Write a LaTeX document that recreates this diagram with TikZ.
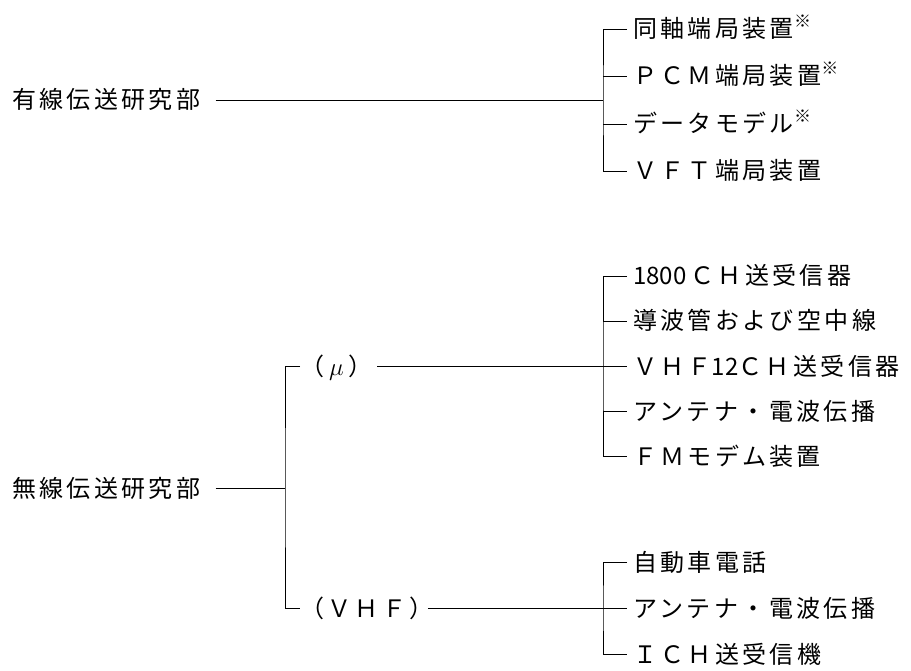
\documentclass[tikz,border=0pt]{standalone}
\usepackage{fontspec}
\newfontfamily\jp[LetterSpace=14]{Noto Sans CJK JP}
\newfontfamily\jpn{Noto Sans CJK JP}
\newcommand\kome{\raisebox{10pt}{\jpn\fontsize{17}{17}\selectfont ※}}
\newcommand\dig[1]{{\jpn #1}}
\begin{document}
\begin{tikzpicture}[x=1pt,y=-1pt,
  lbl/.style={inner sep=0pt, anchor=west, font=\jp\fontsize{24}{24}\selectfont, text height=21pt, text depth=3pt},
  ln/.style={line width=0.8pt, line cap=butt}]
\useasboundingbox (0,0) rectangle (911,671);
% main labels
\node[lbl] (yusen) at (12,100) {有線伝送研究部};
\node[lbl] (musen) at (12,488) {無線伝送研究部};
\node[lbl] (mu) at (300,366) {（\hspace{5pt}$\mu$\hspace{5pt}）};
\node[lbl] (vhf) at (300,608) {（ＶＨＦ）};
% junctions
\coordinate (b1) at (603,100);
\coordinate (b2) at (603,366);
\coordinate (b3) at (603,608);
\coordinate (bm) at (285,488);
% group 1
\node[lbl] (g1a) at (633,29)  {同軸端局装置\kome};
\node[lbl] (g1b) at (633,76)  {ＰＣＭ端局装置\kome};
\node[lbl] (g1c) at (633,124) {データモデル\kome};
\node[lbl] (g1d) at (633,171) {ＶＦＴ端局装置};
% group 2
\node[lbl] (g2a) at (633,276) {\dig{1800}\,ＣＨ送受信器};
\node[lbl] (g2b) at (633,321) {導波管および空中線};
\node[lbl] (g2c) at (633,366) {ＶＨＦ\dig{12}ＣＨ送受信器};
\node[lbl] (g2d) at (633,411) {アンテナ・電波伝播};
\node[lbl] (g2e) at (633,456) {ＦＭモデム装置};
% group 3
\node[lbl] (g3a) at (633,562) {自動車電話};
\node[lbl] (g3b) at (633,608) {アンテナ・電波伝播};
\node[lbl] (g3c) at (633,654) {ＩＣＨ送受信機};
% connectors
\draw[ln] ([xshift=15pt]yusen.east) -- (b1);
\draw[ln] ([xshift=-6pt]g1a.west) -| (b1) |- ([xshift=-6pt]g1d.west);
\draw[ln] (b1 |- g1b.west) -- ([xshift=-6pt]g1b.west);
\draw[ln] (b1 |- g1c.west) -- ([xshift=-6pt]g1c.west);

\draw[ln] ([xshift=15pt]musen.east) -- (bm);
\draw[ln] (mu.west) -| (bm) |- (vhf.west);
\draw[ln] ([xshift=4pt]mu.east) -- (b2);
\draw[ln] ([xshift=-6pt]vhf.east) -- (b3);

\draw[ln] ([xshift=-6pt]g2a.west) -| (b2) |- ([xshift=-6pt]g2e.west);
\draw[ln] (b2 |- g2b.west) -- ([xshift=-6pt]g2b.west);
\draw[ln] (b2) -- ([xshift=-6pt]g2c.west);
\draw[ln] (b2 |- g2d.west) -- ([xshift=-6pt]g2d.west);

\draw[ln] ([xshift=-6pt]g3a.west) -| (b3) |- ([xshift=-6pt]g3c.west);
\draw[ln] (b3) -- ([xshift=-6pt]g3b.west);
\end{tikzpicture}
\end{document}
